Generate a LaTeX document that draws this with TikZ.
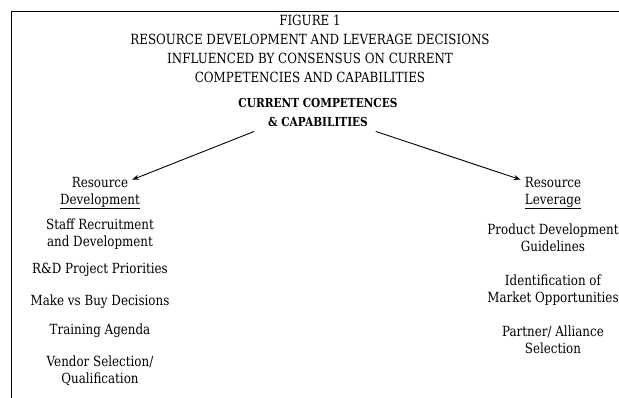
\documentclass[tikz,border=0pt]{standalone}
\usepackage{fontspec}
\setmainfont{DejaVu Serif}[FakeStretch=0.85]
\usetikzlibrary{calc,arrows.meta}
\begin{document}
\begin{tikzpicture}[x=1pt,y=-1pt,
  txt/.style={inner sep=0pt,align=center,font=\fontsize{14}{17}\selectfont},
  ttl/.style={inner sep=0pt,align=center,font=\fontsize{14}{19}\selectfont},
  hd/.style={inner sep=0pt,align=center,font=\bfseries\fontsize{12.4}{19}\selectfont},
  arr/.style={-{Stealth[length=7pt,width=5pt]},line width=0.9pt}]
\useasboundingbox (0,0) rectangle (619,397);
\draw[line width=1.6pt] (620,11.5) -- (11.5,11.5) -- (11.5,398);
\node[ttl] (title) at (310,48.5) {FIGURE 1\\RESOURCE DEVELOPMENT AND LEVERAGE DECISIONS\\INFLUENCED BY CONSENSUS ON CURRENT\\COMPETENCIES AND CAPABILITIES};
\node[hd] (top) at (318,112) {CURRENT COMPETENCES\\\& CAPABILITIES};
\node[txt] (ldev) at (100,193) {Resource\\\underline{Development}};
\node[txt] (l1) at (100,234) {Staff Recruitment\\and Development};
\node[txt] (l2) at (100,270) {R\&D Project Priorities};
\node[txt] (l3) at (100,302) {Make vs Buy Decisions};
\node[txt] (l4) at (100,331) {Training Agenda};
\node[txt] (l5) at (100,371) {Vendor Selection/\\Qualification};
\node[txt] (rlev) at (553,193) {Resource\\\underline{Leverage}};
\node[txt] (r1) at (553,238) {Product Development\\Guidelines};
\node[txt] (r2) at (553,290) {Identification of\\Market Opportunities};
\node[txt] (r3) at (553,340) {Partner/ Alliance\\Selection};
\draw[arr] ($(top.south west)+(16,5)$) -- ($(ldev.north east)+(-8,3)$);
\draw[arr] ($(top.south east)+(-22,5)$) -- ($(rlev.north west)+(-4,3)$);
\end{tikzpicture}
\end{document}
